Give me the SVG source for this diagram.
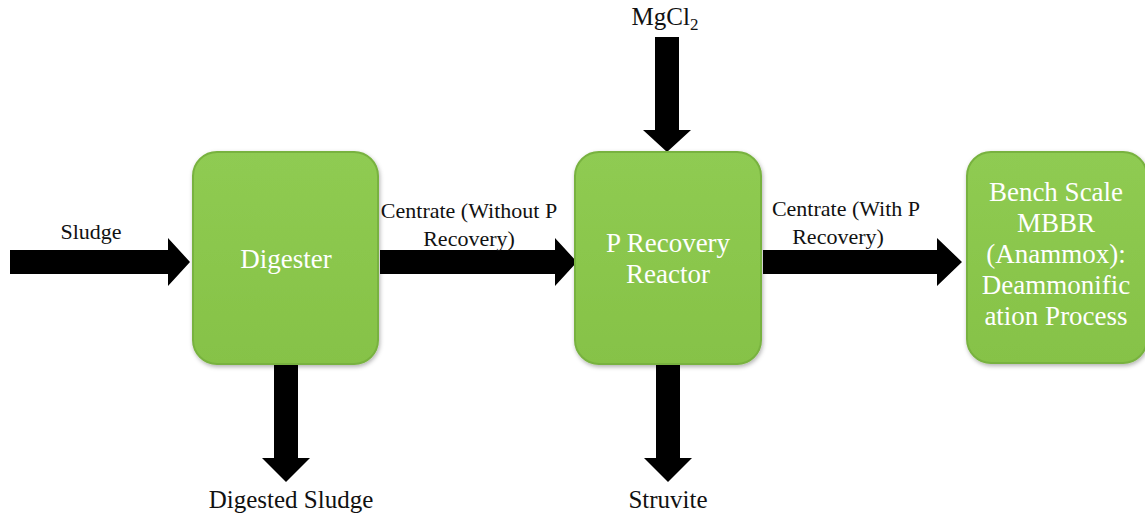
<svg xmlns="http://www.w3.org/2000/svg" width="1145" height="517" viewBox="0 0 1145 517">
<defs>
<linearGradient id="g" x1="0" y1="0" x2="0" y2="1">
<stop offset="0" stop-color="#8fcb52"/>
<stop offset="1" stop-color="#86c247"/>
</linearGradient>
<filter id="sh" x="-10%" y="-10%" width="120%" height="120%">
<feDropShadow dx="1" dy="2" stdDeviation="2" flood-color="#000" flood-opacity="0.3"/>
</filter>
</defs>
<style>
.box{fill:url(#g);stroke:#78b23f;stroke-width:2;filter:url(#sh)}
.bt{fill:#fff;text-anchor:middle}
.lt{fill:#111;text-anchor:middle}
.arr{fill:#000}
</style>
<rect width="1145" height="517" fill="#fff"/>
<g id="connectors">
<polygon class="arr" points="10,250 168,250 168,238 190,262 168,286 168,274 10,274"/>
<polygon class="arr" points="380,250 555,250 555,238 577,262 555,286 555,274 380,274"/>
<polygon class="arr" points="763,250 937,250 937,238 962,262 937,286 937,274 763,274"/>
<polygon class="arr" points="655,37 679,37 679,130 691,130 667,152 643,130 655,130"/>
<polygon class="arr" points="274,365 298,365 298,458 310,458 286,482 262,458 274,458"/>
<polygon class="arr" points="656,365 680,365 680,458 692,458 668,482 644,458 656,458"/>
<text class="lt" x="91" y="239" style="font-family:'Liberation Serif',serif;font-size:22px">Sludge</text>
<text class="lt" x="469" y="218" style="font-family:'Liberation Serif',serif;font-size:22px">Centrate (Without P</text>
<text class="lt" x="469" y="246" style="font-family:'Liberation Serif',serif;font-size:22px">Recovery)</text>
<text class="lt" x="846" y="216" style="font-family:'Liberation Serif',serif;font-size:22px">Centrate (With P</text>
<text class="lt" x="838" y="244" style="font-family:'Liberation Serif',serif;font-size:22px">Recovery)</text>
<text class="lt" x="665" y="25" style="font-family:'Liberation Serif',serif;font-size:25px">MgCl<tspan style="font-size:17px" dy="5">2</tspan></text>
<text class="lt" x="291" y="508" style="font-family:'Liberation Serif',serif;font-size:25px">Digested Sludge</text>
<text class="lt" x="668" y="508" style="font-family:'Liberation Serif',serif;font-size:25px">Struvite</text>
</g>
<g id="digester">
<rect class="box" x="193" y="152" width="185" height="212" rx="24"/>
<text class="bt" x="286" y="268" style="font-family:'Liberation Serif',serif;font-size:27px">Digester</text>
</g>
<g id="p-recovery-reactor">
<rect class="box" x="575" y="152" width="186" height="212" rx="24"/>
<text class="bt" x="668" y="252" style="font-family:'Liberation Serif',serif;font-size:27px">P Recovery</text>
<text class="bt" x="668" y="283" style="font-family:'Liberation Serif',serif;font-size:27px">Reactor</text>
</g>
<g id="mbbr">
<rect class="box" x="967" y="152" width="180" height="211" rx="24"/>
<text class="bt" x="1056" y="201" style="font-family:'Liberation Serif',serif;font-size:27px">Bench Scale</text>
<text class="bt" x="1056" y="232" style="font-family:'Liberation Serif',serif;font-size:27px">MBBR</text>
<text class="bt" x="1056" y="263" style="font-family:'Liberation Serif',serif;font-size:27px">(Anammox):</text>
<text class="bt" x="1056" y="294" style="font-family:'Liberation Serif',serif;font-size:27px">Deammonific</text>
<text class="bt" x="1056" y="325" style="font-family:'Liberation Serif',serif;font-size:27px">ation Process</text>
</g>
</svg>
